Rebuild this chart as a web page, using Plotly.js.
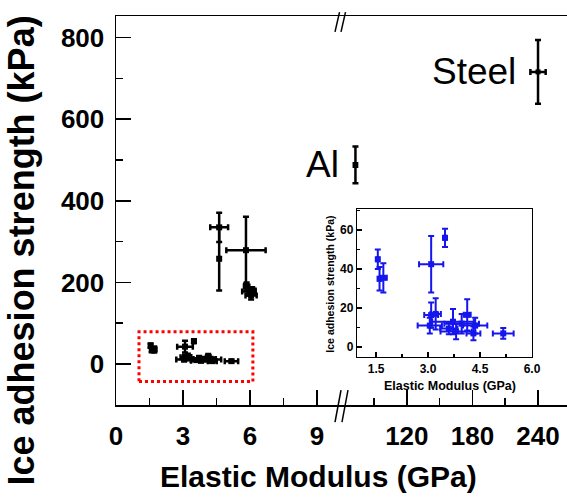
<!DOCTYPE html>
<html><head><meta charset="utf-8">
<script src="https://cdn.plot.ly/plotly-3.0.1.min.js"></script>
<style>html,body{margin:0;padding:0;background:#fff}</style>
</head><body><div id="chart" style="width:567px;height:497px"></div>
<script>
// Low-modulus coatings (also shown in inset): elastic modulus (GPa), ice adhesion (kPa)
const coatE      = [1.55, 1.60, 1.71, 3.09, 3.49, 3.09, 3.22, 3.05, 3.72, 4.13, 3.97, 3.81, 4.31, 4.36, 5.17, 3.60];
const coatTau    = [45.0, 35.0, 35.5, 42.5, 56.0, 16.4, 17.0, 11.0, 13.0, 16.5, 12.0, 8.0, 7.0, 11.0, 7.0, 9.5];
const coatEerr   = [0.03, 0.03, 0.10, 0.35, 0.03, 0.20, 0.15, 0.35, 0.60, 0.10, 0.50, 0.45, 0.20, 0.35, 0.30, 0.25];
const coatTauErr = [5.0, 6.0, 7.5, 14.5, 4.7, 6.5, 8.0, 4.0, 6.5, 8.0, 5.0, 4.0, 3.5, 4.0, 2.8, 3.0];
// Mid-range coatings
const midE      = [4.62, 4.62, 5.82, 5.85, 5.95, 6.05, 6.10];
const midTau    = [335, 258, 279, 190, 178, 168, 180];
const midEerr   = [0.40, 0.00, 0.88, 0.12, 0.30, 0.25, 0.15];
const midTauErr = [36, 78, 82, 10, 10, 10, 8];
// Metals
const metalNames  = ['Al', 'Steel'];
const metalE      = [73, 240];
const metalTau    = [488, 716];
const metalEerr   = [1.5, 7];
const metalTauErr = [45, 78];

const FONT = 'Liberation Sans, Arial, sans-serif';
const BLK = '#000000';
const BLUE = '#1515ee';

function eb(arr, color, th, w) {
  return {type: 'data', array: arr, visible: true, color: color, thickness: th, width: w};
}

const traces = [
  {x: coatE, y: coatTau, xaxis: 'x', yaxis: 'y', mode: 'markers', type: 'scatter',
   marker: {symbol: 'square', size: 6, color: BLK},
   error_x: eb(coatEerr, BLK, 2.5, 3), error_y: eb(coatTauErr, BLK, 2.5, 3)},
  {x: midE, y: midTau, xaxis: 'x', yaxis: 'y', mode: 'markers', type: 'scatter',
   marker: {symbol: 'square', size: 6, color: BLK},
   error_x: eb(midEerr, BLK, 2.5, 3), error_y: eb(midTauErr, BLK, 2.5, 3)},
  {x: metalE, y: metalTau, xaxis: 'x2', yaxis: 'y', mode: 'markers', type: 'scatter',
   marker: {symbol: 'square', size: 5, color: BLK},
   error_x: eb(metalEerr, BLK, 2.5, 3), error_y: eb(metalTauErr, BLK, 2.5, 3)},
  {x: coatE, y: coatTau, xaxis: 'x3', yaxis: 'y3', mode: 'markers', type: 'scatter',
   marker: {symbol: 'square', size: 6, color: BLUE},
   error_x: eb(coatEerr, BLUE, 2, 3), error_y: eb(coatTauErr, BLUE, 2, 3)}
];

const bigTick = {family: FONT, size: 26, color: BLK, weight: 'bold'};
const smallTick = {family: FONT, size: 12, color: BLK, weight: 'bold'};

const annotations = metalNames.map((n, i) => ({
  xref: 'x2', yref: 'y', x: metalE[i], y: metalTau[i], text: n, showarrow: false,
  xanchor: 'right', yanchor: 'middle', xshift: (i === 0 ? -14 : -20),
  font: {family: FONT, size: 37, color: BLK}
}));
annotations.push(
  {xref: 'paper', yref: 'paper', x: 0.45, y: -0.183, text: 'Elastic Modulus (GPa)', showarrow: false,
   xanchor: 'center', yanchor: 'middle', font: {family: FONT, size: 30, color: BLK, weight: 'bold'}},
  {xref: 'paper', yref: 'paper', x: -0.21, y: 0.398, text: 'Ice adhesion strength (kPa)', showarrow: false,
   textangle: -90, xanchor: 'center', yanchor: 'middle', font: {family: FONT, size: 36, color: BLK, weight: 'bold'}},
  {xref: 'paper', yref: 'paper', x: 0.74, y: 0.05, text: 'Elastic Modulus (GPa)', showarrow: false,
   xanchor: 'center', yanchor: 'middle', font: {family: FONT, size: 12.5, color: BLK, weight: 'bold'}},
  {xref: 'paper', yref: 'paper', x: 0.475, y: 0.31, text: 'Ice adhesion strength (kPa)', showarrow: false,
   textangle: -90, xanchor: 'center', yanchor: 'middle', font: {family: FONT, size: 10.5, color: BLK, weight: 'bold'}}
);

const brk = {type: 'line', xref: 'paper', yref: 'paper', line: {color: BLK, width: 1.5}};
const shapes = [
  {type: 'rect', xref: 'x', yref: 'y', x0: 1.03, x1: 6.13, y0: -43, y1: 79,
   line: {color: '#ff0000', width: 3, dash: 'dot'}},
  Object.assign({}, brk, {x0: 0.4856, y0: -0.044, x1: 0.4989, y1: 0.038}),
  Object.assign({}, brk, {x0: 0.5011, y0: -0.044, x1: 0.5144, y1: 0.038}),
  Object.assign({}, brk, {x0: 0.4856, y0: 0.959, x1: 0.4956, y1: 1.010}),
  Object.assign({}, brk, {x0: 0.4989, y0: 0.959, x1: 0.5089, y1: 1.010})
];

const axBase = {showline: true, linecolor: BLK, linewidth: 1.5, showgrid: false, zeroline: false,
  ticks: 'inside', tickcolor: BLK, tickwidth: 1.5};

const layout = {
  width: 567, height: 497,
  margin: {l: 116, r: 0, t: 16, b: 92},
  paper_bgcolor: '#ffffff', plot_bgcolor: 'rgba(0,0,0,0)',
  showlegend: false,
  font: {family: FONT, color: BLK},
  xaxis: Object.assign({}, axBase, {domain: [0, 0.5011], range: [0, 10.12], anchor: 'y', mirror: true,
    tickmode: 'linear', tick0: 0, dtick: 3, ticklen: 15, tickfont: bigTick, ticklabelstandoff: 7,
    minor: {dtick: 1.5, tick0: 0, ticklen: 7, ticks: 'inside', tickcolor: BLK, tickwidth: 1.5}}),
  xaxis2: Object.assign({}, axBase, {domain: [0.5011, 1], range: [60.7, 266.5], anchor: 'y', mirror: true,
    tickmode: 'linear', tick0: 0, dtick: 60, ticklen: 15, tickfont: bigTick, ticklabelstandoff: 7,
    minor: {dtick: 30, tick0: 0, ticklen: 7, ticks: 'inside', tickcolor: BLK, tickwidth: 1.5}}),
  yaxis: Object.assign({}, axBase, {domain: [0, 1], range: [-100.5, 853], anchor: 'x',
    tickmode: 'linear', tick0: 0, dtick: 200, ticklen: 15, tickfont: bigTick, ticklabelstandoff: 5,
    minor: {dtick: 100, tick0: 0, ticklen: 7, ticks: 'inside', tickcolor: BLK, tickwidth: 1.5}}),
  xaxis3: Object.assign({}, axBase, {domain: [0.5344, 0.9224], range: [0.95, 6.0], anchor: 'y3', mirror: true,
    linewidth: 1.3, tickmode: 'linear', tick0: 0, dtick: 1.5, tickformat: '.1f', ticklen: 5, tickfont: smallTick,
    minor: {dtick: 0.75, tick0: 0, ticklen: 3, ticks: 'inside', tickcolor: BLK}}),
  yaxis3: Object.assign({}, axBase, {domain: [0.1234, 0.5039], range: [-5.1, 70.8], anchor: 'x3', mirror: true,
    linewidth: 1.3, tickmode: 'linear', tick0: 0, dtick: 20, ticklen: 5, tickfont: smallTick,
    minor: {dtick: 10, tick0: 0, ticklen: 3, ticks: 'inside', tickcolor: BLK}}),
  annotations: annotations,
  shapes: shapes
};

Plotly.newPlot('chart', traces, layout, {displayModeBar: false, staticPlot: true});
</script></body></html>
